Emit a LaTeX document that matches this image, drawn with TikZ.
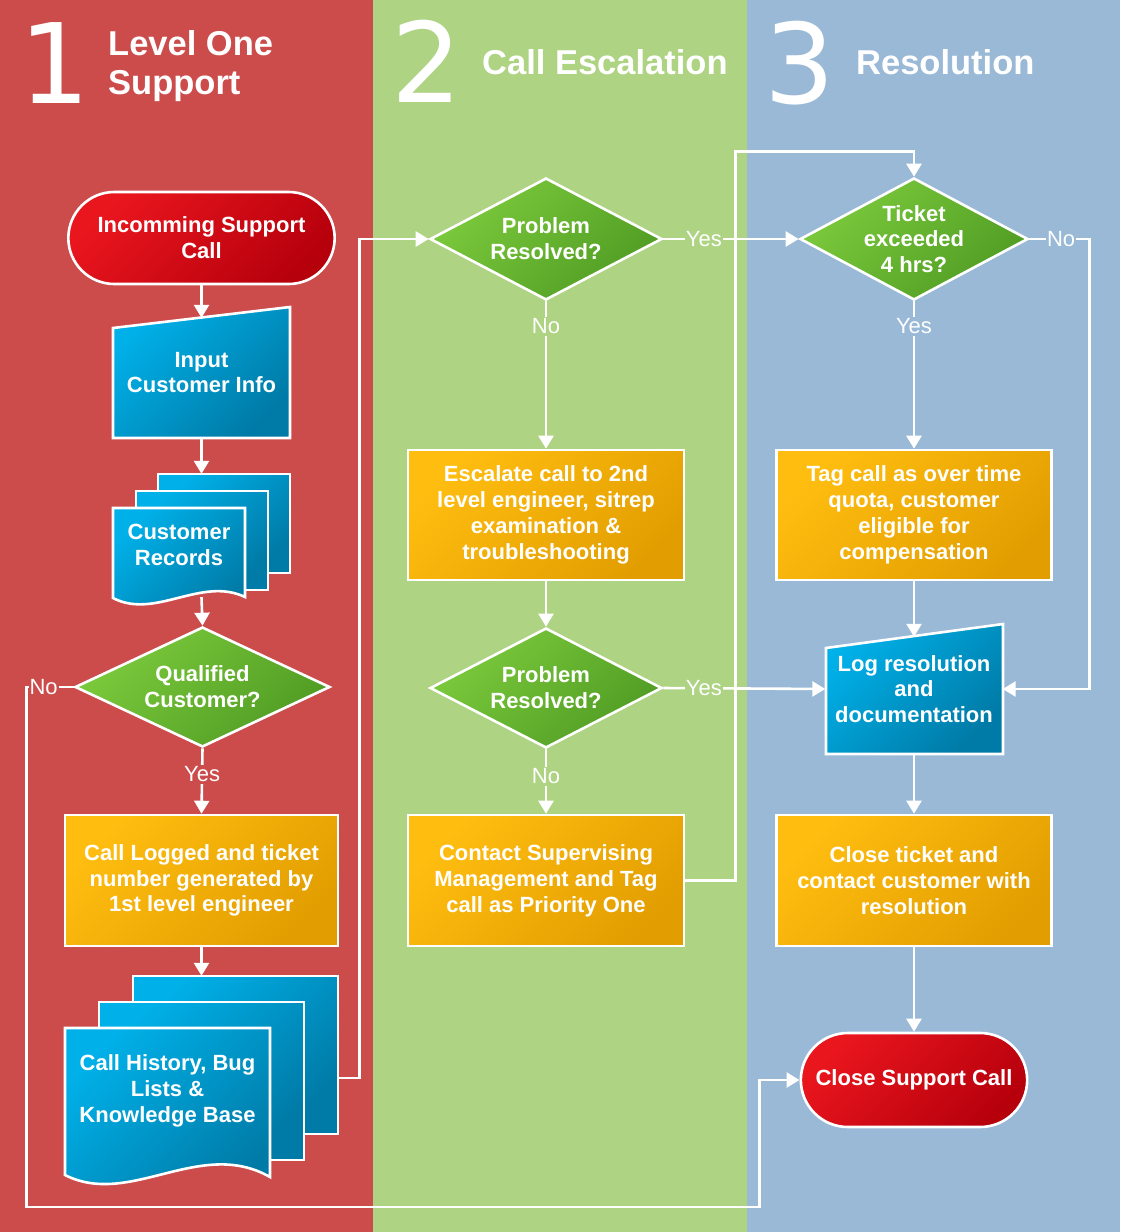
\documentclass[tikz,border=0pt]{standalone}
\usepackage{fontspec}
\setmainfont{Liberation Sans}
\newfontfamily\digitfont{DejaVu Sans}
\usetikzlibrary{arrows.meta,shapes.geometric,shapes.misc,calc}

\definecolor{lanered}{RGB}{204,76,76}
\definecolor{lanegreen}{RGB}{174,211,131}
\definecolor{laneblue}{RGB}{153,185,214}
\definecolor{termlight}{RGB}{234,22,30}
\definecolor{termdark}{RGB}{182,0,12}
\definecolor{bluelight}{RGB}{0,176,232}
\definecolor{bluedark}{RGB}{0,122,166}
\definecolor{greenlight}{RGB}{124,202,60}
\definecolor{greendark}{RGB}{80,156,36}
\definecolor{orangelight}{RGB}{255,189,16}
\definecolor{orangedark}{RGB}{226,158,0}

\tikzset{
  txt/.style={text=white, align=center, font=\bfseries\fontsize{22}{25.8}\selectfont},
  shapeline/.style={draw=white, line width=2.6pt},
  terminal/.style={txt, shapeline, rounded rectangle, top color=termlight, bottom color=termdark, shading angle=45},
  process/.style={txt, shapeline, rectangle, top color=orangelight, bottom color=orangedark, shading angle=45},
  decision/.style={shapeline, diamond, inner sep=0pt, top color=greenlight, bottom color=greendark, shading angle=45},
  docpage/.style={shapeline, top color=bluelight, bottom color=bluedark, shading angle=45},
  flowline/.style={draw=white, line width=2.6pt},
  arr/.style={flowline, -{Triangle[width=15pt,length=13pt]}},
  lbl/.style={text=white, inner xsep=1pt, inner ysep=1.5pt, font=\fontsize{22}{25.8}\selectfont},
  lanehead/.style={text=white, align=left, anchor=base west, inner sep=0pt, font=\bfseries\fontsize{34.5}{39}\selectfont},
  lanenum/.style={text=white, anchor=base, inner sep=0pt, font=\digitfont\fontsize{111}{111}\selectfont}
}

\begin{document}
\begin{tikzpicture}[x=1pt, y=-1pt]
  \useasboundingbox (0,0) rectangle (1120,1232);
  % lanes
  \fill[lanered] (0,0) rectangle (373,1232);
  \fill[lanegreen] (373,0) rectangle (747,1232);
  \fill[laneblue] (747,0) rectangle (1120,1232);
  \node[lanenum] (num1) at (55,103) {1};
  \node[lanehead] (head1) at (108,94) {Level One\\Support};
  \node[lanenum] (num2) at (427,102) {2};
  \node[lanehead] (head2) at (482,74) {Call Escalation};
  \node[lanenum] (num3) at (800,103) {3};
  \node[lanehead] (head3) at (856,74) {Resolution};

  % lane 1
  \node[terminal, minimum width=273, minimum height=92] (start) at (201.5,238) {Incomming Support\\Call};
  \path[docpage] (113,328) -- (290,307) -- (290,438) -- (113,438) -- cycle;
  \node[txt, minimum width=177, minimum height=131] (input) at (201.5,372.5) {Input\\Customer Info};
  \path[docpage] (158,474) rectangle (290,573);
  \path[docpage] (136,491) rectangle (268,590);
  \path[docpage] (113,598) -- (113,508) -- (245,508) -- (245,597) .. controls (201,576) and (155,620) .. (113,598) -- cycle;
  \node[minimum width=177, minimum height=123, inner sep=0pt] (recs) at (201.5,535.5) {};
  \node[txt] (recs text) at (179,545) {Customer\\Records};
  \node[decision, minimum width=255, minimum height=120, label={[txt]center:Qualified\\Customer?}] (qual) at (202.5,687) {};
  \node[process, minimum width=273, minimum height=131] (logged) at (201.5,880.5) {Call Logged and ticket\\number generated by\\1st level engineer};
  \path[docpage] (133,976) rectangle (338,1134);
  \path[docpage] (99,1002) rectangle (304,1160);
  \path[docpage] (65,1175) -- (65,1028) -- (270,1028) -- (270,1177) .. controls (200,1137) and (130,1208) .. (65,1175) -- cycle;
  \node[minimum width=273, minimum height=204, inner sep=0pt] (hist) at (201.5,1078) {};
  \node[txt] (hist text) at (167.5,1091) {Call History, Bug\\Lists \&\\Knowledge Base};

  % lane 2
  \node[decision, minimum width=232, minimum height=122, label={[txt]center:Problem\\Resolved?}] (check1) at (546,239) {};
  \node[process, minimum width=276, minimum height=130] (escalate) at (546,515) {Escalate call to 2nd\\level engineer, sitrep\\examination \&\\troubleshooting};
  \node[decision, minimum width=232, minimum height=120, label={[txt]center:Problem\\Resolved?}] (check2) at (546,688) {};
  \node[process, minimum width=276, minimum height=131] (contact) at (546,880.5) {Contact Supervising\\Management and Tag\\call as Priority One};

  % lane 3
  \node[decision, minimum width=228, minimum height=122, label={[txt]center:Ticket\\exceeded\\4 hrs?}] (overtime) at (914,239) {};
  \node[process, minimum width=275, minimum height=130] (tag) at (914,515) {Tag call as over time\\quota, customer\\eligible for\\compensation};
  \path[docpage] (826,648) -- (1003,624) -- (1003,754) -- (826,754) -- cycle;
  \node[txt, minimum width=177, minimum height=130] (log) at (914,689) {Log resolution\\and\\documentation};
  \node[process, minimum width=275, minimum height=131] (closeticket) at (914,880.5) {Close ticket and\\contact customer with\\resolution};
  \node[terminal, minimum width=233, minimum height=94] (finish) at (914,1080) {Close Support Call};

  % connectors
  \draw[arr, shorten >=-11pt] (start.south) -- (input.north);
  \draw[arr] (input.south) -- (recs.north);
  \draw[arr] (recs.south) -- (qual.north);
  \draw[arr] (qual.south) -- node[lbl, fill=lanered, pos=0.4] {Yes} (logged.north);
  \draw[arr] (logged.south) -- (hist.north);
  \draw[arr] (hist.east) -- ++(21,0) |- (check1.west);
  \draw[arr] (qual.west) -- node[lbl, fill=lanered, pos=0.64] {No} ++(-47,0) -- ++(0,520) -| ($(finish.west)+(-40,0)$) -- (finish.west);
  \draw[arr] (check1.east) -- node[lbl, fill=lanegreen, pos=0.3] {Yes} (overtime.west);
  \draw[arr] (check1.south) -- node[lbl, fill=lanegreen, pos=0.17] {No} (escalate.north);
  \draw[arr] (escalate.south) -- (check2.north);
  \draw[arr] (check2.east) -- node[lbl, fill=lanegreen, pos=0.25] {Yes} (log.west);
  \draw[arr] (check2.south) -- node[lbl, fill=lanegreen, pos=0.42] {No} (contact.north);
  \draw[arr] (contact.east) -- ++(50,0) |- ($(overtime.north)+(0,-25)$) -- (overtime.north);
  \draw[arr] (overtime.east) -- node[lbl, fill=laneblue, pos=0.53] {No} ++(60,0) |- (log.east);
  \draw[arr] (overtime.south) -- node[lbl, fill=laneblue, pos=0.17] {Yes} (tag.north);
  \draw[arr, shorten >=-13pt] (tag.south) -- (log.north);
  \draw[arr] (log.south) -- (closeticket.north);
  \draw[arr] (closeticket.south) -- (finish.north);
\end{tikzpicture}
\end{document}
